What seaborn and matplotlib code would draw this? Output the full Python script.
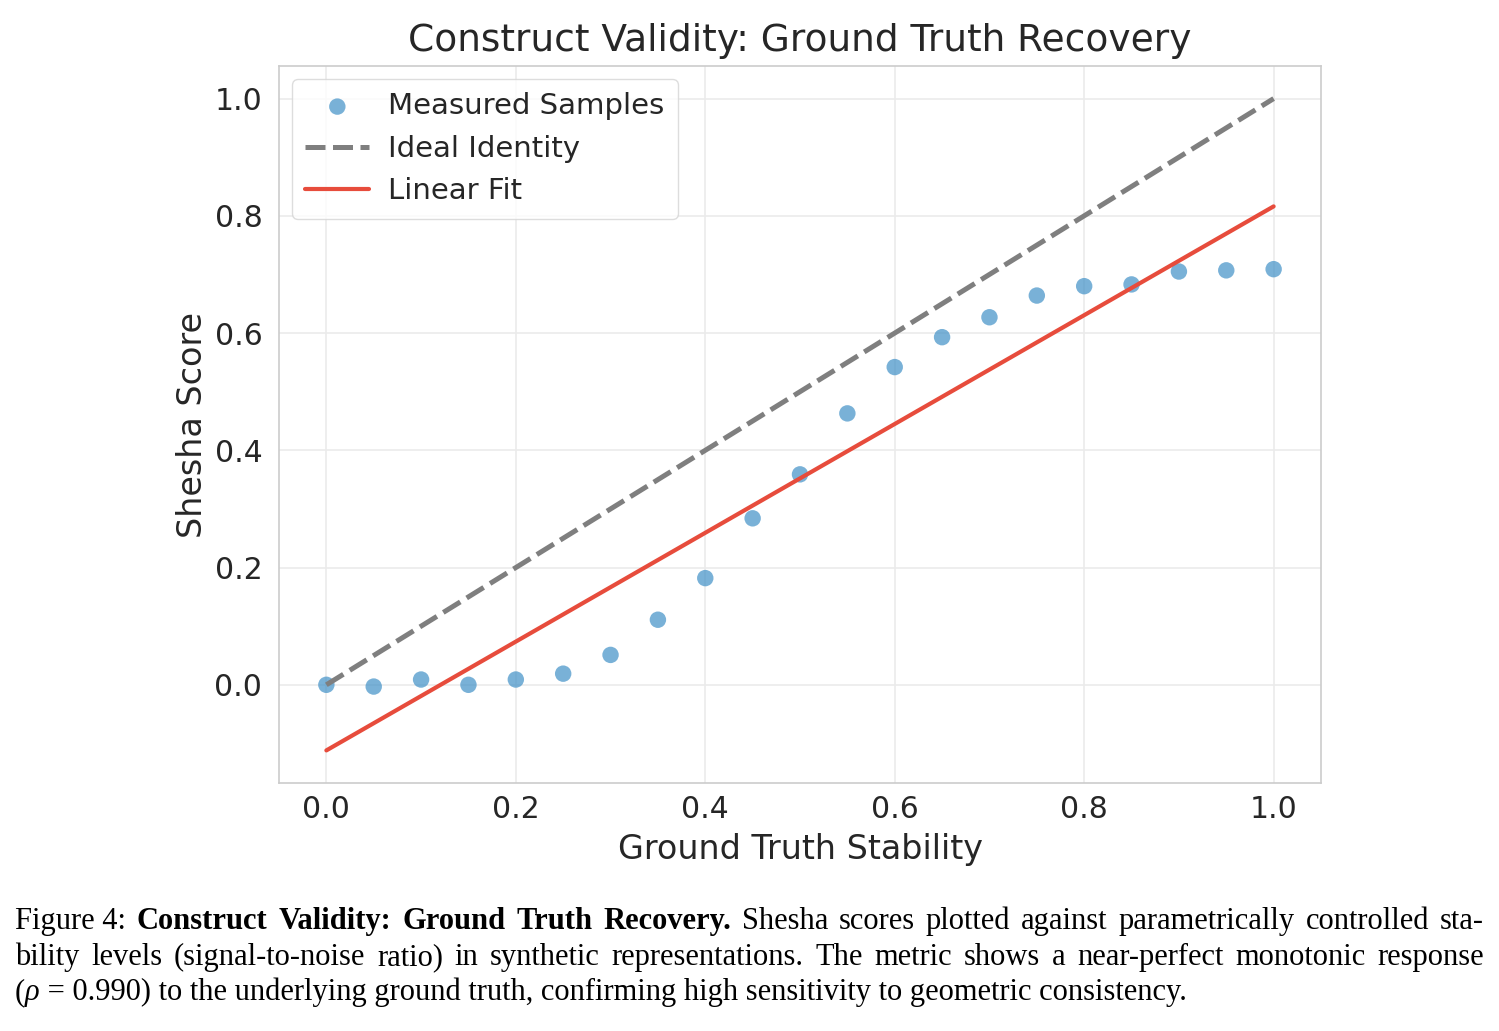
import matplotlib
matplotlib.use("Agg")
import matplotlib.pyplot as plt
import numpy as np
import pandas as pd
import seaborn as sns

# data
stability = [0.00, 0.05, 0.10, 0.15, 0.20, 0.25, 0.30, 0.35, 0.40, 0.45, 0.50,
             0.55, 0.60, 0.65, 0.70, 0.75, 0.80, 0.85, 0.90, 0.95, 1.00]
shesha = [0.000, -0.003, 0.009, 0.000, 0.009, 0.019, 0.051, 0.111, 0.182,
          0.284, 0.359, 0.463, 0.542, 0.593, 0.627, 0.664, 0.680, 0.683,
          0.705, 0.707, 0.709]
identity = [0.0, 1.0]
xticks = [0.0, 0.2, 0.4, 0.6, 0.8, 1.0]
yticks = [0.0, 0.2, 0.4, 0.6, 0.8, 1.0]

caption_lines = [
    [("Figure 4:", "normal", "normal"),
     ("Construct", "bold", "normal"), ("Validity:", "bold", "normal"),
     ("Ground", "bold", "normal"), ("Truth", "bold", "normal"),
     ("Recovery.", "bold", "normal"),
     ("Shesha", "normal", "normal"), ("scores", "normal", "normal"),
     ("plotted", "normal", "normal"), ("against", "normal", "normal"),
     ("parametrically", "normal", "normal"), ("controlled", "normal", "normal"),
     ("sta-", "normal", "normal")],
    [(w, "normal", "normal") for w in
     "bility levels (signal-to-noise ratio) in synthetic representations. The "
     "metric shows a near-perfect monotonic response".split()],
]
caption_last = "to the underlying ground truth, confirming high sensitivity to geometric consistency."

df = pd.DataFrame({"stability": stability, "shesha": shesha})
slope, intercept = np.polyfit(df["stability"], df["shesha"], 1)
fit_x = [stability[0], stability[-1]]
fit_y = [intercept + slope * v for v in fit_x]

sns.set_theme(style="whitegrid")
plt.rcParams["font.family"] = ["DejaVu Sans"]

fig = plt.figure(figsize=(14.99, 10.31), dpi=100)
ax = fig.add_axes([279 / 1499, 1 - 783 / 1031, 1042 / 1499, 717 / 1031])

sns.scatterplot(data=df, x="stability", y="shesha", ax=ax, s=140,
                color="#4191c7", alpha=0.7, edgecolor="none",
                label="Measured Samples", zorder=2)
sns.lineplot(x=identity, y=identity, ax=ax, color="#7f7f7f", linewidth=3.6,
             linestyle=(0, (4.0, 1.5)), label="Ideal Identity", zorder=3)
sns.lineplot(x=fit_x, y=fit_y, ax=ax, color="#e74c3c", linewidth=3,
             label="Linear Fit", zorder=3)

ax.set_xticks(xticks)
ax.set_yticks(yticks)
ax.tick_params(axis="x", labelsize=21.5, colors="#262626", pad=3)
ax.tick_params(axis="y", labelsize=21.5, colors="#262626", pad=6)
ax.set_xlabel("Ground Truth Stability", fontsize=24, color="#262626",
              labelpad=6)
ax.set_ylabel("Shesha Score", fontsize=24, color="#262626", labelpad=4)
ax.set_title("Construct Validity: Ground Truth Recovery", fontsize=27,
             color="#262626", pad=11)
ax.grid(color="#ebebeb", linewidth=1.2)
for sp in ax.spines.values():
    sp.set_color("#cccccc")
    sp.set_linewidth(1.2)
leg = ax.legend(loc="upper left", fontsize=21, frameon=True, borderpad=0.45,
                handlelength=2.2, handletextpad=0.65, labelspacing=0.5,
                borderaxespad=0.45)
leg.get_frame().set_edgecolor("#d5d5d5")

# caption, justified like the paper
renderer = fig.canvas.get_renderer()
serif = "Liberation Serif"
cap_size = 22
left_px, right_px = 15, 1484
baselines = [929, 965, 1000]


def place(txt, x_px, y_px, weight, style):
    return fig.text(x_px / 1499, 1 - y_px / 1031, txt, fontsize=cap_size,
                    family=serif, weight=weight, style=style,
                    va="baseline", ha="left", color="black")


for line, base in zip(caption_lines, baselines):
    items = [place(w, 0, base, wt, st) for w, wt, st in line]
    widths = [t.get_window_extent(renderer).width for t in items]
    gap = (right_px - left_px - sum(widths)) / (len(items) - 1)
    x = left_px
    for t, w in zip(items, widths):
        t.set_x(x / 1499)
        x += w + gap

# last line, natural spacing
x = left_px
parts = [("(", "normal"), ("\u03c1", "italic"), (" = 0.990) " + caption_last, "normal")]
for txt, st in parts:
    t = place(txt, x, baselines[2], "normal", st)
    x += t.get_window_extent(renderer).width

fig.savefig("out.png", dpi=100)
